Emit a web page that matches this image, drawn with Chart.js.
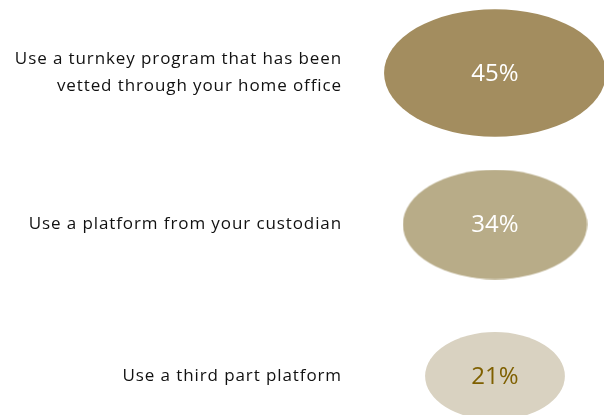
<!DOCTYPE html>
<html>
<head>
<meta charset="utf-8">
<script src="https://cdn.jsdelivr.net/npm/chart.js@4/dist/chart.umd.min.js"></script>
<style>
  html, body { margin: 0; padding: 0; background: #ffffff; }
  #wrap { width: 604px; height: 415px; position: relative; }
</style>
</head>
<body>
<div id="wrap"><canvas id="c"></canvas></div>
<script>
// Survey answers, top to bottom
const categories = [
  ["Use a turnkey program that has been", "vetted through your home office"],
  "Use a platform from your custodian",
  "Use a third part platform"
];
const shares = [45, 34, 21];           // percent of respondents
const fillColors = ["#A38D5F", "#B8AC88", "#D9D2C1"];
const textColors = ["#FFFFFF", "#FFFFFF", "#7F6000"];

// Oval size grows with the share
function ovalSize(v) {
  return { rx: 34 + 1.71 * v, ry: 26.5 + 0.83 * v };
}

// Pre-rendered oval used as the point style of each bubble
function ovalImage(v, color) {
  const s = ovalSize(v);
  const cv = document.createElement('canvas');
  cv.width = Math.ceil(s.rx * 2);
  cv.height = Math.ceil(s.ry * 2);
  const g = cv.getContext('2d');
  g.fillStyle = color;
  g.beginPath();
  g.ellipse(cv.width / 2, cv.height / 2, s.rx, s.ry, 0, 0, Math.PI * 2);
  g.fill();
  return cv;
}

const images = shares.map((v, i) => ovalImage(v, fillColors[i]));

// Slightly open tracking for the category text
const tracking = {
  id: 'tracking',
  beforeUpdate(chart) { chart.ctx.letterSpacing = '0.9px'; },
  beforeDraw(chart) { chart.ctx.letterSpacing = '0.9px'; }
};

const valueLabels = {
  id: 'valueLabels',
  afterDatasetsDraw(chart) {
    const ctx = chart.ctx;
    const meta = chart.getDatasetMeta(0);
    ctx.save();
    ctx.letterSpacing = '0px';
    ctx.font = '400 24px "Open Sans", sans-serif';
    ctx.textAlign = 'center';
    ctx.textBaseline = 'middle';
    meta.data.forEach((pt, i) => {
      ctx.fillStyle = textColors[i];
      ctx.fillText(shares[i] + '%', pt.x, pt.y + 1);
    });
    ctx.restore();
  }
};

new Chart(document.getElementById('c'), {
  type: 'bubble',
  data: {
    labels: categories,
    datasets: [{
      data: shares.map((v, i) => ({ x: 0.5, y: i, r: ovalSize(v).ry })),
      pointStyle: (ctx) => images[ctx.dataIndex],
      backgroundColor: fillColors,
      borderWidth: 0,
      clip: false
    }]
  },
  options: {
    responsive: true,
    maintainAspectRatio: false,
    animation: false,
    layout: { autoPadding: false, padding: { top: 73, bottom: 39, left: 0, right: 0 } },
    plugins: {
      legend: { display: false },
      tooltip: { enabled: false }
    },
    scales: {
      x: { type: 'linear', min: 0, max: 1, display: false },
      y: {
        type: 'category',
        offset: false,
        grid: { display: false },
        border: { display: false },
        afterFit(scale) {
          // fixed label column; bubbles may spill past the plot edges
          scale.width = 386;
          scale.paddingTop = 0;
          scale.paddingBottom = 0;
        },
        ticks: {
          padding: 36,
          color: '#111111',
          font: { family: 'Open Sans', size: 17, lineHeight: 1.58 }
        }
      }
    }
  },
  plugins: [tracking, valueLabels]
});
</script>
</body>
</html>
